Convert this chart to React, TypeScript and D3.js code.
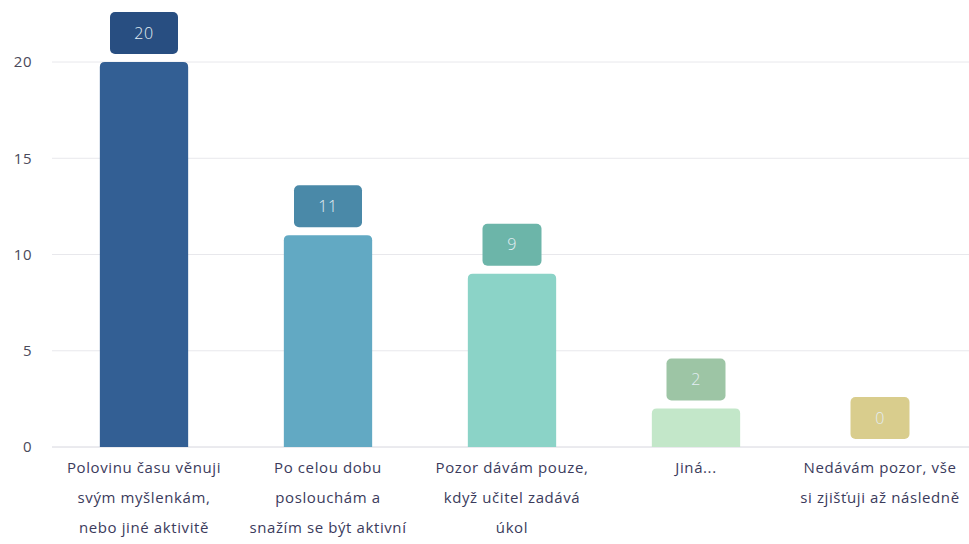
import React from "react";
import * as d3 from "d3";

const categories: string[][] = [
  ["Polovinu času věnuji", "svým myšlenkám,", "nebo jiné aktivitě"],
  ["Po celou dobu", "poslouchám a", "snažím se být aktivní"],
  ["Pozor dávám pouze,", "když učitel zadává", "úkol"],
  ["Jiná..."],
  ["Nedávám pozor, vše", "si zjišťuji až následně"],
];
const values: number[] = [20, 11, 9, 2, 0];
const yTicks: number[] = [0, 5, 10, 15, 20];
const barColors: string[] = ["#335f94", "#62a9c3", "#8bd3c7", "#c3e7c9", "#e8dc9c"];
const boxColors: string[] = ["#284e81", "#4a89a8", "#6cb5a9", "#9dc5a5", "#d9cd8d"];

const W = 969;
const H = 544;

export default function App() {
  const x = d3
    .scaleBand<number>()
    .domain(values.map((_, i) => i))
    .range([52, 972])
    .paddingInner(0.52)
    .paddingOuter(0.26);
  const y = d3.scaleLinear().domain([0, 20]).range([447, 62]);
  const font = "'Open Sans', 'Noto Sans', sans-serif";
  const bw = x.bandwidth();
  return (
    <svg
      width={W}
      height={H}
      style={{ position: "absolute", left: 0, top: 0, background: "#fff" }}
      fontFamily={font}
    >
      {yTicks.map((t) => (
        <g key={t}>
          <line
            x1={52}
            x2={969}
            y1={y(t)}
            y2={y(t)}
            stroke={t === 0 ? "#d6d6de" : "#e8e8ec"}
            strokeWidth={1}
          />
          <text x={32} y={y(t)} dy="0.35em" textAnchor="end" fontSize={15} letterSpacing={0.5} fill="#4a4a5a">
            {t}
          </text>
        </g>
      ))}
      {values.map((v, i) => {
        const x0 = x(i)!;
        const top = y(v);
        const h = y(0) - top;
        const r = Math.min(5, h / 2);
        const path =
          h > 0
            ? `M${x0},${y(0)} V${top + r} Q${x0},${top} ${x0 + r},${top} H${x0 + bw - r} Q${x0 + bw},${top} ${x0 + bw},${top + r} V${y(0)} Z`
            : "";
        const label = String(v);
        const boxW = label.length > 1 ? 68 : 59;
        const boxH = 42;
        const cx = x0 + bw / 2;
        const boxBottom = top - 8;
        return (
          <g key={i}>
            {h > 0 && <path d={path} fill={barColors[i]} />}
            <rect
              x={cx - boxW / 2}
              y={boxBottom - boxH}
              width={boxW}
              height={boxH}
              rx={5}
              fill={boxColors[i]}
            />
            <text
              x={cx}
              y={boxBottom - boxH / 2}
              dy="0.35em"
              textAnchor="middle"
              fontSize={16}
              fontWeight={300}
              letterSpacing={0.5}
              fill="#e4eef4"
            >
              {label}
            </text>
            {categories[i].map((line, j) => (
              <text
                key={j}
                x={cx}
                y={468 + j * 30}
                dy="0.35em"
                textAnchor="middle"
                fontSize={15}
                letterSpacing={0.6}
                fill="#3b3b5c"
              >
                {line}
              </text>
            ))}
          </g>
        );
      })}
    </svg>
  );
}
